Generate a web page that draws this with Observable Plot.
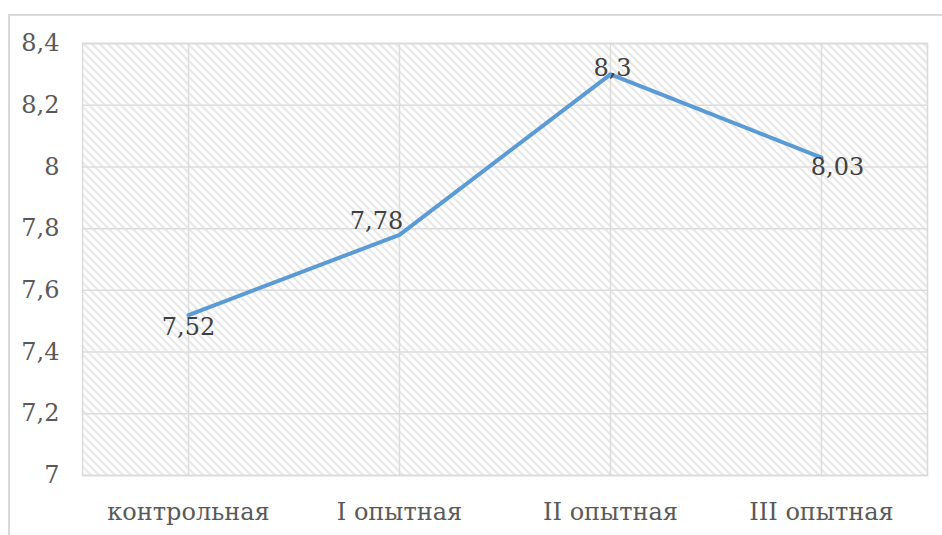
<!DOCTYPE html>
<html>
<head>
<meta charset="utf-8">
<script src="https://cdn.jsdelivr.net/npm/d3@7"></script>
<script src="https://cdn.jsdelivr.net/npm/@observablehq/plot@0.6"></script>
<style>
  html, body { margin: 0; padding: 0; background: #fff; }
  #wrap { position: relative; width: 942px; height: 535px; overflow: hidden; }
  #box { position: absolute; left: 8px; top: 14px; width: 1000px; height: 1000px; border: 2px solid #d9d9d9; box-sizing: border-box; }
  #chart { position: absolute; left: 0; top: 0; }
</style>
</head>
<body>
<div id="wrap"><div id="box"></div><div id="chart"></div></div>
<script>
const categories = ["контрольная", "I опытная", "II опытная", "III опытная"];
const values = [7.52, 7.78, 8.3, 8.03];
const yTicks = [7, 7.2, 7.4, 7.6, 7.8, 8, 8.2, 8.4];

const data = categories.map((c, i) => ({cat: c, v: values[i], label: String(values[i]).replace(".", ",")}));
const fmt = d => String(d).replace(".", ",");
const font = "DejaVu Serif";

const labelMark = (i, dx, dy) => Plot.text([data[i]], {
  x: "cat", y: "v", text: "label", dx, dy,
  fontSize: 24, fontFamily: font, fill: "#404040", textAnchor: "middle"
});

const plot = Plot.plot({
  width: 942,
  height: 535,
  marginTop: 43,
  marginBottom: 60,
  marginLeft: 82,
  marginRight: 15,
  style: {fontFamily: font, background: "transparent", overflow: "visible"},
  x: {type: "point", domain: categories, padding: 0.5, label: null},
  y: {domain: [7, 8.4], ticks: yTicks, label: null},
  marks: [
    Plot.frame({fill: "url(#hatch)", stroke: "none"}),
    Plot.ruleY(yTicks, {stroke: "#dcdcdc", strokeWidth: 1.5}),
    Plot.ruleX(categories, {stroke: "#dcdcdc", strokeWidth: 1.5}),
    Plot.frame({stroke: "#d9d9d9", strokeWidth: 1.5}),
    Plot.axisY({ticks: yTicks, tickFormat: fmt, tickSize: 0, tickPadding: 23, fontSize: 24, fontFamily: font, fill: "#595959", label: null}),
    Plot.axisX({tickSize: 0, tickPadding: 27, fontSize: 24, fontFamily: font, fill: "#595959", label: null}),
    Plot.line(data, {x: "cat", y: "v", stroke: "#5b9bd5", strokeWidth: 4, strokeLinecap: "round", strokeLinejoin: "round"}),
    labelMark(0, 0, 12),
    labelMark(1, -23, -14),
    labelMark(2, 2, -6),
    labelMark(3, 16, 10)
  ]
});

const ns = "http://www.w3.org/2000/svg";
const defs = document.createElementNS(ns, "defs");
defs.innerHTML = `<pattern id="hatch" patternUnits="userSpaceOnUse" width="8" height="8">
  <rect width="8" height="8" fill="#ffffff"/>
  <path d="M-2,-2 L10,10 M-2,6 L2,10 M6,-2 L10,2" stroke="#e2e2e2" stroke-width="1.8"/>
</pattern>`;
plot.insertBefore(defs, plot.firstChild);
document.getElementById("chart").appendChild(plot);
</script>
</body>
</html>
